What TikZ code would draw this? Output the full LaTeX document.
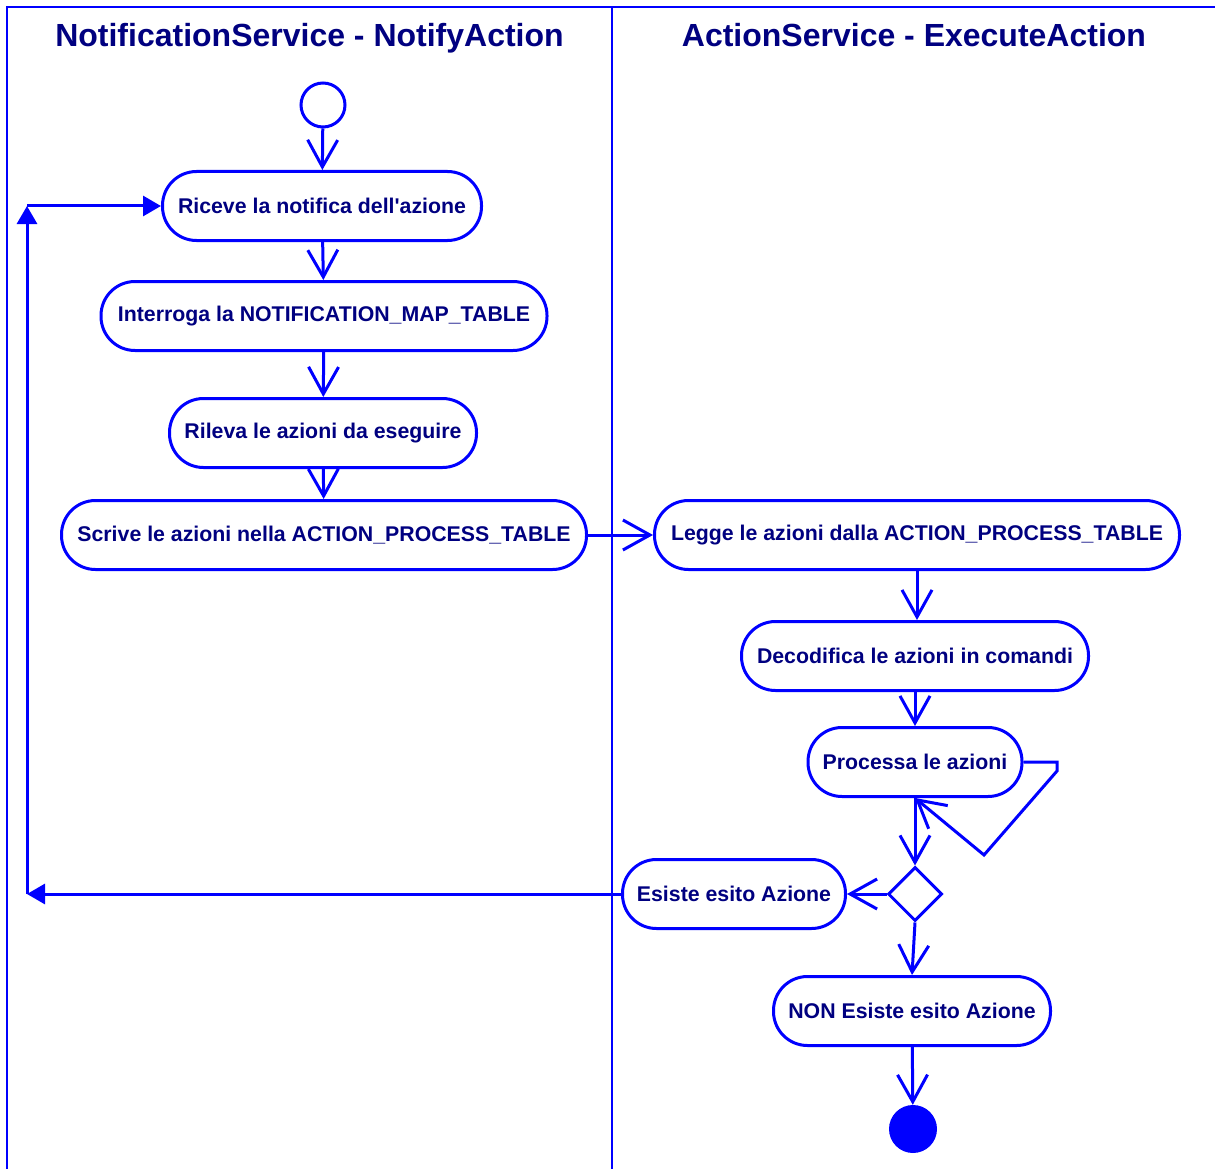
\documentclass[tikz,border=0pt]{standalone}
\usepackage{fontspec}
\setmainfont{Liberation Sans}
\usetikzlibrary{arrows.meta,shapes.geometric}
\definecolor{lineblue}{RGB}{0,0,255}
\definecolor{textnavy}{RGB}{0,0,128}
\begin{document}
\begin{tikzpicture}[x=1pt,y=-1pt,
 act/.style={draw=lineblue, line width=3pt, fill=white, rounded corners=34pt, minimum height=69pt, inner sep=0pt, font=\fontsize{21.3}{25}\selectfont\bfseries, text=textnavy},
 flow/.style={draw=lineblue, line width=3pt, -{Straight Barb[length=27pt,width=30pt,line width=3pt]}},
 back/.style={draw=lineblue, line width=3pt, -{Triangle[length=18pt,width=20pt]}},
 lane/.style={draw=lineblue, line width=2pt},
 lanetitle/.style={font=\fontsize{32}{38}\selectfont\bfseries, text=textnavy, anchor=base, inner sep=0pt},
 decision/.style={diamond, aspect=1, draw=lineblue, line width=3pt, fill=white, minimum width=54pt, minimum height=54pt, inner sep=0pt},
 startnode/.style={circle, draw=lineblue, line width=3pt, fill=white, minimum size=44pt, inner sep=0pt},
 endnode/.style={circle, fill=lineblue, minimum size=48pt, inner sep=0pt}]
\useasboundingbox (0,0) rectangle (1215,1169);
\fill[white] (0,0) rectangle (1215,1169);
% swimlanes
\draw[lane] (7,1169) -- (7,7) -- (1216,7);
\draw[lane] (612,7) -- (612,1169);
\node[lanetitle] (t1) at (309.5,47) {NotificationService - NotifyAction};
\node[lanetitle] (t2) at (914,47) {ActionService - ExecuteAction};
% nodes
\node[startnode] (start) at (323,105) {};
\node[act, minimum width=319pt] (riceve) at (322,206) {Riceve la notifica dell\textquotesingle azione};
\node[act, minimum width=446pt] (interroga) at (324,316) {Interroga la NOTIFICATION\_MAP\_TABLE};
\node[act, minimum width=307pt] (rileva) at (323,433) {Rileva le azioni da eseguire};
\node[act, minimum width=525pt] (scrive) at (324,535) {Scrive le azioni nella ACTION\_PROCESS\_TABLE};
\node[act, minimum width=525pt] (legge) at (917,535) {Legge le azioni dalla ACTION\_PROCESS\_TABLE};
\node[act, minimum width=347pt] (decod) at (915,656) {Decodifica le azioni in comandi};
\node[act, minimum width=214pt] (proc) at (915,762) {Processa le azioni};
\node[decision] (dec) at (915,894) {};
\node[act, minimum width=223pt] (esiste) at (734,894) {Esiste esito Azione};
\node[act, minimum width=277pt] (non) at (912,1011) {NON Esiste esito Azione};
\node[endnode] (end) at (913,1129) {};
% connectors
\draw[flow] (start) -- (riceve);
\draw[flow] (riceve) -- (interroga);
\draw[flow] (interroga) -- (rileva);
\draw[flow] (rileva) -- (scrive);
\draw[flow] (scrive) -- (legge);
\draw[flow] (legge.south) -- (legge.south |- decod.north);
\draw[flow] (decod) -- (proc);
\coordinate (l1) at (1057,762);
\coordinate (l2) at (1057,771);
\coordinate (l3) at (984,855);
\draw[flow] (proc.east) -- (l1) -- (l2) -- (l3) -- (proc.south);
\draw[flow] (proc.south) -- (dec.north);
\draw[flow] (dec.west) -- (esiste.east);
\draw[flow] (dec.south) -- (non.north);
\draw[flow] (non) -- (end);
\coordinate (lb) at (27,894);
\coordinate (lt) at (27,206);
\draw[back] (esiste.west) -- (lb);
\draw[back] (lb) -- (lt);
\draw[back] (lt) -- (riceve.west);
\end{tikzpicture}
\end{document}
